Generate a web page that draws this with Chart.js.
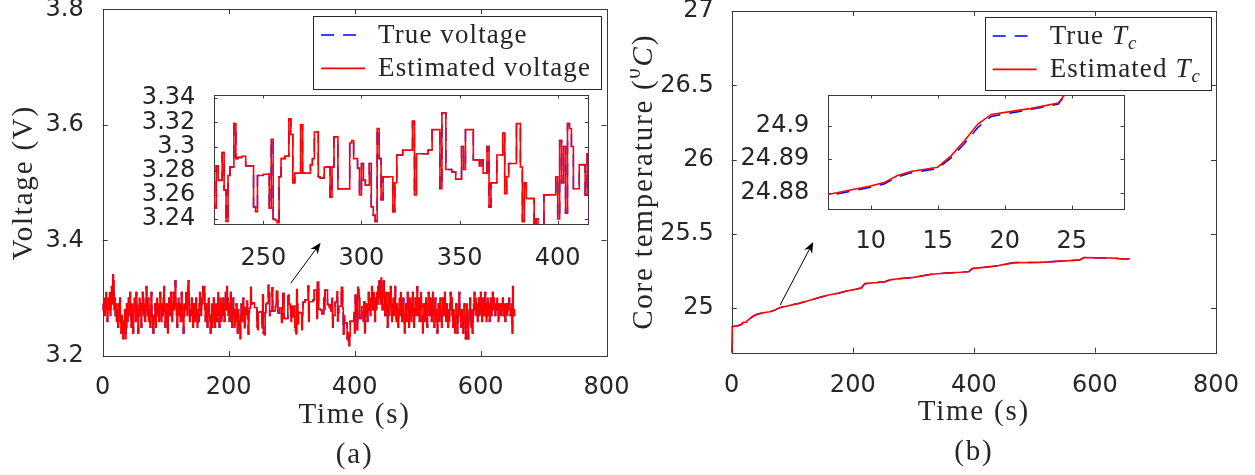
<!DOCTYPE html>
<html>
<head>
<meta charset="utf-8">
<script src="https://cdn.jsdelivr.net/npm/chart.js@4.4.1/dist/chart.umd.min.js"></script>
<style>
  body { margin: 0; background: #fff; }
  #wrap { position: relative; width: 1255px; height: 475px; overflow: hidden; background: #fff; }
  #wrap canvas { position: absolute; }
</style>
</head>
<body>
<div id="wrap">
  <canvas id="voltChart" width="630" height="475" style="left:0;top:0"></canvas>
  <canvas id="tempChart" width="625" height="475" style="left:630px;top:0"></canvas>
  <canvas id="voltZoom" width="470" height="205" style="left:130px;top:75px"></canvas>
  <canvas id="tempZoom" width="410" height="180" style="left:730px;top:75px"></canvas>
</div>
<script>
const SERIF = '"Liberation Serif", "Times New Roman", serif';
const SANS = '"DejaVu Sans", Arial, sans-serif';
const INK = '#262626';
const BLUE = '#0000ff';
const RED = '#ff0000';

// ---- (a) terminal voltage, one sample per second, t = 0..655 s ----
const voltEst = [
  3.29, 3.28, 3.30, 3.27, 3.29, 3.31, 3.28, 3.26, 3.29, 3.30, // 0
  3.28, 3.31, 3.27, 3.30, 3.32, 3.29, 3.34, 3.33, 3.28, 3.30,
  3.27, 3.29, 3.26, 3.28, 3.25, 3.29, 3.27, 3.30, 3.26, 3.24,
  3.27, 3.25, 3.23, 3.26, 3.24, 3.28, 3.23, 3.25, 3.29, 3.26,
  3.28, 3.30, 3.27, 3.31, 3.28, 3.25, 3.29, 3.27, 3.24, 3.28,
  3.30, 3.28, 3.26, 3.31, 3.29, 3.27, 3.24, 3.28, 3.30, 3.27, // 50
  3.29, 3.25, 3.28, 3.31, 3.30, 3.27, 3.29, 3.26, 3.28, 3.32,
  3.29, 3.27, 3.30, 3.26, 3.28, 3.25, 3.29, 3.31, 3.27, 3.25,
  3.24, 3.27, 3.26, 3.29, 3.25, 3.28, 3.30, 3.27, 3.29, 3.26,
  3.28, 3.31, 3.28, 3.26, 3.29, 3.27, 3.30, 3.32, 3.28, 3.25,
  3.27, 3.29, 3.26, 3.24, 3.28, 3.30, 3.27, 3.29, 3.31, 3.28, // 100
  3.26, 3.29, 3.31, 3.28, 3.30, 3.33, 3.29, 3.27, 3.25, 3.28,
  3.30, 3.27, 3.29, 3.26, 3.28, 3.31, 3.29, 3.26, 3.24, 3.27,
  3.29, 3.28, 3.31, 3.30, 3.27, 3.32, 3.33, 3.29, 3.26, 3.28,
  3.27, 3.30, 3.28, 3.25, 3.27, 3.29, 3.26, 3.28, 3.30, 3.27,
  3.25, 3.28, 3.26, 3.29, 3.31, 3.28, 3.27, 3.30, 3.29, 3.32, // 150
  3.30, 3.32, 3.28, 3.26, 3.29, 3.27, 3.25, 3.28, 3.30, 3.27,
  3.26, 3.24, 3.27, 3.29, 3.25, 3.28, 3.30, 3.27, 3.25, 3.28,
  3.29, 3.26, 3.28, 3.31, 3.27, 3.25, 3.28, 3.30, 3.26, 3.29,
  3.27, 3.30, 3.28, 3.26, 3.29, 3.31, 3.28, 3.32, 3.30, 3.27,
  3.29, 3.26, 3.28, 3.31, 3.27, 3.25, 3.28, 3.30, 3.27, 3.25, // 200
  3.28, 3.26, 3.29, 3.27, 3.24, 3.28, 3.26, 3.25, 3.23, 3.27,
  3.29, 3.26, 3.28, 3.30, 3.27, 3.249, 3.284, 3.272, 3.272, 3.295,
  3.264, 3.238, 3.276, 3.283, 3.283, 3.319, 3.290, 3.291, 3.291, 3.292,
  3.292, 3.284, 3.284, 3.284, 3.284, 3.250, 3.246, 3.276, 3.276, 3.276,
  3.277, 3.277, 3.277, 3.249, 3.306, 3.240, 3.239, 3.237, 3.275, 3.290, // 250
  3.290, 3.292, 3.292, 3.323, 3.310, 3.270, 3.278, 3.278, 3.278, 3.318,
  3.278, 3.278, 3.278, 3.278, 3.285, 3.290, 3.312, 3.312, 3.275, 3.274,
  3.274, 3.283, 3.283, 3.283, 3.258, 3.283, 3.308, 3.308, 3.265, 3.265,
  3.265, 3.265, 3.265, 3.265, 3.303, 3.305, 3.290, 3.290, 3.282, 3.260,
  3.286, 3.272, 3.268, 3.268, 3.286, 3.250, 3.243, 3.238, 3.315, 3.290, // 300
  3.256, 3.275, 3.275, 3.275, 3.275, 3.275, 3.246, 3.270, 3.293, 3.293,
  3.293, 3.297, 3.297, 3.297, 3.297, 3.297, 3.321, 3.260, 3.294, 3.294,
  3.294, 3.294, 3.294, 3.294, 3.297, 3.297, 3.314, 3.314, 3.314, 3.314,
  3.265, 3.328, 3.328, 3.281, 3.281, 3.281, 3.279, 3.279, 3.273, 3.273,
  3.273, 3.300, 3.281, 3.314, 3.314, 3.314, 3.314, 3.289, 3.289, 3.289, // 350
  3.284, 3.289, 3.278, 3.278, 3.300, 3.250, 3.270, 3.270, 3.270, 3.293,
  3.293, 3.293, 3.311, 3.261, 3.275, 3.286, 3.286, 3.286, 3.286, 3.319,
  3.319, 3.283, 3.238, 3.270, 3.257, 3.257, 3.257, 3.257, 3.230, 3.240,
  3.225, 3.218, 3.235, 3.260, 3.260, 3.260, 3.260, 3.260, 3.260, 3.275,
  3.240, 3.305, 3.270, 3.300, 3.245, 3.319, 3.315, 3.300, 3.265, 3.265, // 400
  3.265, 3.285, 3.285, 3.285, 3.260, 3.294, 3.24, 3.27, 3.29, 3.28,
  3.26, 3.29, 3.31, 3.28, 3.30, 3.27, 3.29, 3.32, 3.30, 3.28,
  3.31, 3.29, 3.26, 3.30, 3.28, 3.31, 3.29, 3.32, 3.30, 3.33,
  3.31, 3.29, 3.335, 3.30, 3.28, 3.31, 3.33, 3.30, 3.27, 3.29,
  3.31, 3.28, 3.25, 3.29, 3.31, 3.27, 3.30, 3.32, 3.29, 3.26, // 450
  3.28, 3.30, 3.27, 3.29, 3.32, 3.28, 3.26, 3.29, 3.27, 3.25,
  3.28, 3.30, 3.27, 3.31, 3.29, 3.26, 3.28, 3.30, 3.27, 3.24,
  3.27, 3.29, 3.26, 3.28, 3.31, 3.28, 3.25, 3.27, 3.30, 3.28,
  3.26, 3.29, 3.31, 3.27, 3.25, 3.28, 3.30, 3.27, 3.29, 3.32,
  3.29, 3.27, 3.30, 3.26, 3.28, 3.31, 3.29, 3.26, 3.24, 3.27, // 500
  3.29, 3.26, 3.28, 3.30, 3.27, 3.25, 3.28, 3.31, 3.29, 3.27,
  3.30, 3.28, 3.26, 3.29, 3.31, 3.28, 3.25, 3.27, 3.30, 3.28,
  3.26, 3.24, 3.27, 3.29, 3.26, 3.28, 3.30, 3.27, 3.25, 3.28,
  3.30, 3.27, 3.29, 3.31, 3.28, 3.26, 3.29, 3.27, 3.25, 3.28,
  3.26, 3.29, 3.31, 3.28, 3.30, 3.27, 3.25, 3.28, 3.26, 3.24, // 550
  3.27, 3.29, 3.26, 3.24, 3.27, 3.29, 3.31, 3.28, 3.26, 3.25,
  3.28, 3.26, 3.24, 3.27, 3.29, 3.26, 3.23, 3.27, 3.29, 3.25,
  3.23, 3.26, 3.28, 3.30, 3.27, 3.25, 3.28, 3.24, 3.27, 3.29,
  3.31, 3.28, 3.30, 3.27, 3.29, 3.26, 3.28, 3.30, 3.27, 3.29,
  3.31, 3.28, 3.26, 3.29, 3.30, 3.27, 3.29, 3.31, 3.28, 3.26, // 600
  3.29, 3.30, 3.27, 3.29, 3.26, 3.28, 3.30, 3.27, 3.29, 3.31,
  3.28, 3.30, 3.29, 3.27, 3.29, 3.28, 3.30, 3.28, 3.26, 3.29,
  3.28, 3.29, 3.27, 3.29, 3.28, 3.30, 3.27, 3.29, 3.28, 3.26,
  3.29, 3.28, 3.27, 3.29, 3.28, 3.30, 3.28, 3.27, 3.28, 3.29,
  3.24, 3.32, 3.27, 3.28, 3.27, 3.27                          // 650
];
const voltTrue = voltEst; // true and estimated traces coincide at plotted resolution
const voltTime = voltEst.map((v, i) => i);

// ---- (b) core temperature, read at the curve's breakpoints ----
const tempTime = [0, 1, 7, 10, 11, 12, 13, 15, 16, 17, 18, 19, 21, 22, 24, 25, 27, 30, 35, 40,
  45, 55, 63, 70, 81, 95, 111, 128, 146, 160, 176, 190, 206, 214, 220, 240, 253, 262, 271, 301,
  330, 355, 378, 392, 397, 420, 437, 455, 467, 509, 539, 575, 582, 628, 652, 658];
const tempEst = [24.66, 24.8755, 24.8796, 24.8820, 24.8830, 24.8851, 24.8863, 24.8876, 24.8910, 24.8955,
  24.9005, 24.9034, 24.9046, 24.9052, 24.9068, 24.9120, 24.920, 24.930, 24.945, 24.955,
  24.962, 24.970, 24.976, 24.985, 25.005, 25.018, 25.032, 25.052, 25.073, 25.088,
  25.100, 25.115, 25.128, 25.135, 25.165, 25.172, 25.178, 25.190, 25.196, 25.207,
  25.228, 25.236, 25.241, 25.246, 25.266, 25.276, 25.284, 25.298, 25.306, 25.308,
  25.315, 25.324, 25.340, 25.337, 25.329, 25.333];
const tempTrue = [24.8750, 24.8751, 24.8792, 24.8816, 24.8826, 24.8847, 24.8859, 24.8872, 24.8904, 24.8947,
  24.8995, 24.9028, 24.9042, 24.9049, 24.9065, 24.9117, 24.920, 24.930, 24.945, 24.955,
  24.962, 24.970, 24.976, 24.985, 25.005, 25.018, 25.032, 25.052, 25.073, 25.088,
  25.100, 25.115, 25.128, 25.135, 25.165, 25.172, 25.178, 25.190, 25.196, 25.207,
  25.228, 25.236, 25.241, 25.246, 25.266, 25.276, 25.284, 25.298, 25.306, 25.308,
  25.315, 25.324, 25.340, 25.337, 25.329, 25.333];

// ---- tick values ----
const voltXTicks = [0, 200, 400, 600, 800];
const voltYTicks = [3.2, 3.4, 3.6, 3.8];
const voltZoomXTicks = [250, 300, 350, 400];
const voltZoomYTicks = [3.24, 3.26, 3.28, 3.3, 3.32, 3.34];
const tempXTicks = [0, 200, 400, 600, 800];
const tempYTicks = [25, 25.5, 26, 26.5, 27];
const tempZoomXTicks = [10, 15, 20, 25];
const tempZoomYTicks = [24.88, 24.89, 24.9];

const pts = (xs, ys) => ys.map((v, i) => ({x: xs[i], y: v}));

function lines(xs, yTrue, yEst, stepped, clip) {
  return [
    {label: 'True', data: pts(xs, yTrue), borderColor: BLUE, borderWidth: 1.5, borderDash: [13, 9],
     pointRadius: 0, stepped: stepped, order: 1, clip: clip},
    {label: 'Estimated', data: pts(xs, yEst), borderColor: RED, borderWidth: 1.6,
     pointRadius: 0, stepped: stepped, order: 0, clip: clip}
  ];
}

// linear axis with fixed thickness so the plot box lands where the figure has it
function axis(min, max, ticks, thick, pad) {
  return {
    type: 'linear', min: min, max: max,
    grid: {display: false}, border: {display: false},
    afterBuildTicks: s => { s.ticks = ticks.map(v => ({value: v})); },
    afterFit: s => {
      if (s.isHorizontal()) { s.height = thick; s.paddingLeft = 0; s.paddingRight = 0; }
      else { s.width = thick; s.paddingTop = 0; s.paddingBottom = 0; }
    },
    ticks: {font: {family: SANS, size: 24}, color: INK, padding: pad, maxRotation: 0,
            autoSkip: false, callback: v => String(v)}
  };
}

// serif text with italic / super / subscript pieces
function richWidth(ctx, parts, size) {
  let w = 0;
  parts.forEach(p => {
    ctx.font = (p.it ? 'italic ' : '') + ((p.sup || p.sub) ? size * 0.7 : size) + 'px ' + SERIF;
    w += ctx.measureText(p.t).width;
  });
  return w;
}
function drawRich(ctx, parts, x, y, size, rot, left) {
  ctx.save();
  ctx.translate(x, y);
  if (rot) ctx.rotate(rot);
  ctx.fillStyle = INK;
  ctx.textAlign = 'left';
  ctx.textBaseline = 'alphabetic';
  let cx = left ? 0 : -richWidth(ctx, parts, size) / 2;
  parts.forEach(p => {
    const s = (p.sup || p.sub) ? size * 0.7 : size;
    ctx.font = (p.it ? 'italic ' : '') + s + 'px ' + SERIF;
    const dy = p.sup ? -size * 0.42 : p.sub ? size * 0.18 : 0;
    ctx.fillText(p.t, cx, size * 0.3 + dy);
    cx += ctx.measureText(p.t).width;
  });
  ctx.restore();
}

// box, inward ticks, labels, legend and arrow in MATLAB style
function decor(cfg) {
  return {
    id: 'decor',
    beforeDatasetsDraw(chart) {
      const {ctx, chartArea: a, scales: {x, y}} = chart;
      const r = v => Math.round(v) + 0.5;
      ctx.save();
      if (cfg.fill) {
        ctx.fillStyle = '#fff';
        ctx.fillRect(a.left, a.top, a.width, a.height);
      }
      ctx.strokeStyle = '#3a3a3a';
      ctx.lineWidth = 1;
      ctx.strokeRect(r(a.left), r(a.top), Math.round(a.right) - Math.round(a.left), Math.round(a.bottom) - Math.round(a.top));
      ctx.beginPath();
      x.ticks.forEach(t => {
        const px = r(x.getPixelForValue(t.value));
        ctx.moveTo(px, a.bottom); ctx.lineTo(px, a.bottom - cfg.tick);
        ctx.moveTo(px, a.top); ctx.lineTo(px, a.top + cfg.tick);
      });
      y.ticks.forEach(t => {
        const py = r(y.getPixelForValue(t.value));
        ctx.moveTo(a.left, py); ctx.lineTo(a.left + cfg.tick, py);
        ctx.moveTo(a.right, py); ctx.lineTo(a.right - cfg.tick, py);
      });
      ctx.stroke();
      ctx.restore();
    },
    afterDatasetsDraw(chart) {
      const {ctx, chartArea: a, scales: {x, y}} = chart;
      const r = v => Math.round(v) + 0.5;
      ctx.save();
      if (cfg.arrow) {
        const x0 = x.getPixelForValue(cfg.arrow.from[0]), y0 = y.getPixelForValue(cfg.arrow.from[1]);
        const x1 = x.getPixelForValue(cfg.arrow.to[0]), y1 = y.getPixelForValue(cfg.arrow.to[1]);
        const ang = Math.atan2(y1 - y0, x1 - x0), c = Math.cos(ang), s = Math.sin(ang);
        const hl = 11, hw = 4.5;
        ctx.strokeStyle = '#000';
        ctx.fillStyle = '#000';
        ctx.lineWidth = 1;
        ctx.beginPath(); ctx.moveTo(x0, y0); ctx.lineTo(x1 - hl * 0.7 * c, y1 - hl * 0.7 * s); ctx.stroke();
        ctx.beginPath();
        ctx.moveTo(x1, y1);
        ctx.lineTo(x1 - hl * c + hw * s, y1 - hl * s - hw * c);
        ctx.lineTo(x1 - hl * 0.7 * c, y1 - hl * 0.7 * s);
        ctx.lineTo(x1 - hl * c - hw * s, y1 - hl * s + hw * c);
        ctx.closePath(); ctx.fill();
      }

      ctx.letterSpacing = '1.8px';
      if (cfg.xTitle) {
        const cx = (a.left + a.right) / 2;
        cfg.xTitle.forEach(l => drawRich(ctx, l.parts, cx, a.bottom + l.dy, 29));
      }
      if (cfg.yTitle) {
        drawRich(ctx, cfg.yTitle.parts, cfg.yTitle.x, (a.top + a.bottom) / 2, 29, -Math.PI / 2);
      }

      if (cfg.legend) {
        const L = cfg.legend, size = 27;
        ctx.letterSpacing = '1.1px';
        const tw = Math.max(...L.items.map(p => richWidth(ctx, p, size)));
        const w = 8 + 44 + 13 + tw + 10, h = 73;
        const right = a.right - L.dx, left = right - w, top = a.top + L.dy;
        ctx.fillStyle = '#fff';
        ctx.fillRect(left, top, w, h);
        ctx.strokeStyle = INK;
        ctx.lineWidth = 1;
        ctx.strokeRect(r(left), r(top), Math.round(w), h);
        L.items.forEach((parts, i) => {
          const ds = chart.data.datasets[i];
          const ry = top + 18.6 + i * 33.3;
          ctx.save();
          ctx.strokeStyle = ds.borderColor;
          ctx.lineWidth = ds.borderWidth;
          ctx.setLineDash(ds.borderDash || []);
          ctx.beginPath(); ctx.moveTo(left + 8, ry + 0.5); ctx.lineTo(left + 52, ry + 0.5); ctx.stroke();
          ctx.restore();
          drawRich(ctx, parts, left + 65, ry, size, 0, true);
        });
      }
      ctx.restore();
    }
  };
}

function makeChart(id, o) {
  return new Chart(document.getElementById(id), {
    type: 'line',
    data: {datasets: o.datasets},
    options: {
      responsive: false,
      animation: false,
      events: [],
      layout: {padding: o.padding},
      scales: {x: o.x, y: o.y},
      plugins: {legend: {display: false}, tooltip: {enabled: false}}
    },
    plugins: [decor(o.decor)]
  });
}

const mainClip = {left: 3, top: 0, right: 0, bottom: 0};

// (a) voltage
makeChart('voltChart', {
  datasets: lines(voltTime, voltTrue, voltEst, true, mainClip),
  padding: {top: 9.3, right: 23.5, bottom: 0, left: 0},
  x: axis(0, 800, voltXTicks, 119, 9),
  y: axis(3.2, 3.8, voltYTicks, 102.7, 11),
  decor: {
    tick: 5,
    xTitle: [{parts: [{t: 'Time (s)'}], dy: 58.6}, {parts: [{t: '(a)'}], dy: 98.5}],
    yTitle: {parts: [{t: 'Voltage (V)'}], x: 23},
    legend: {items: [[{t: 'True voltage'}], [{t: 'Estimated voltage'}]], dx: 5.5, dy: 6.7},
    arrow: {from: [298.6, 3.326], to: [346, 3.396]}
  }
});

// (b) core temperature
makeChart('tempChart', {
  datasets: lines(tempTime, tempTrue, tempEst, false, mainClip),
  padding: {top: 11, right: 39, bottom: 0, left: 0},
  x: axis(0, 800, tempXTicks, 122.3, 11),
  y: axis(24.7, 27, tempYTicks, 101.7, 10),
  decor: {
    tick: 5,
    xTitle: [{parts: [{t: 'Time (s)'}], dy: 58.6}, {parts: [{t: '(b)'}], dy: 98.5}],
    yTitle: {parts: [{t: 'Core temperature ('}, {t: '0', sup: true}, {t: 'C', it: true}, {t: ')'}], x: 13},
    legend: {items: [
      [{t: 'True '}, {t: 'T', it: true}, {t: 'c', it: true, sub: true}],
      [{t: 'Estimated '}, {t: 'T', it: true}, {t: 'c', it: true, sub: true}]
    ], dx: 5, dy: 6},
    arrow: {from: [80, 25.021], to: [134.7, 25.445]}
  }
});

// zoomed insets
makeChart('voltZoom', {
  datasets: lines(voltTime, voltTrue, voltEst, true, 0),
  padding: {top: 20, right: 11.7, bottom: 0, left: 0},
  x: axis(225, 415.6, voltZoomXTicks, 55.7, 12),
  y: axis(3.2356, 3.3427, voltZoomYTicks, 84.3, 11),
  decor: {tick: 3.5, fill: true}
});

makeChart('tempZoom', {
  datasets: lines(tempTime, tempTrue, tempEst, false, 0),
  padding: {top: 20, right: 16, bottom: 0, left: 0},
  x: axis(6.84, 28.9, tempZoomXTicks, 46, 10),
  y: axis(24.8751, 24.9092, tempZoomYTicks, 98.3, 11),
  decor: {tick: 3.5, fill: true}
});
</script>
</body>
</html>
